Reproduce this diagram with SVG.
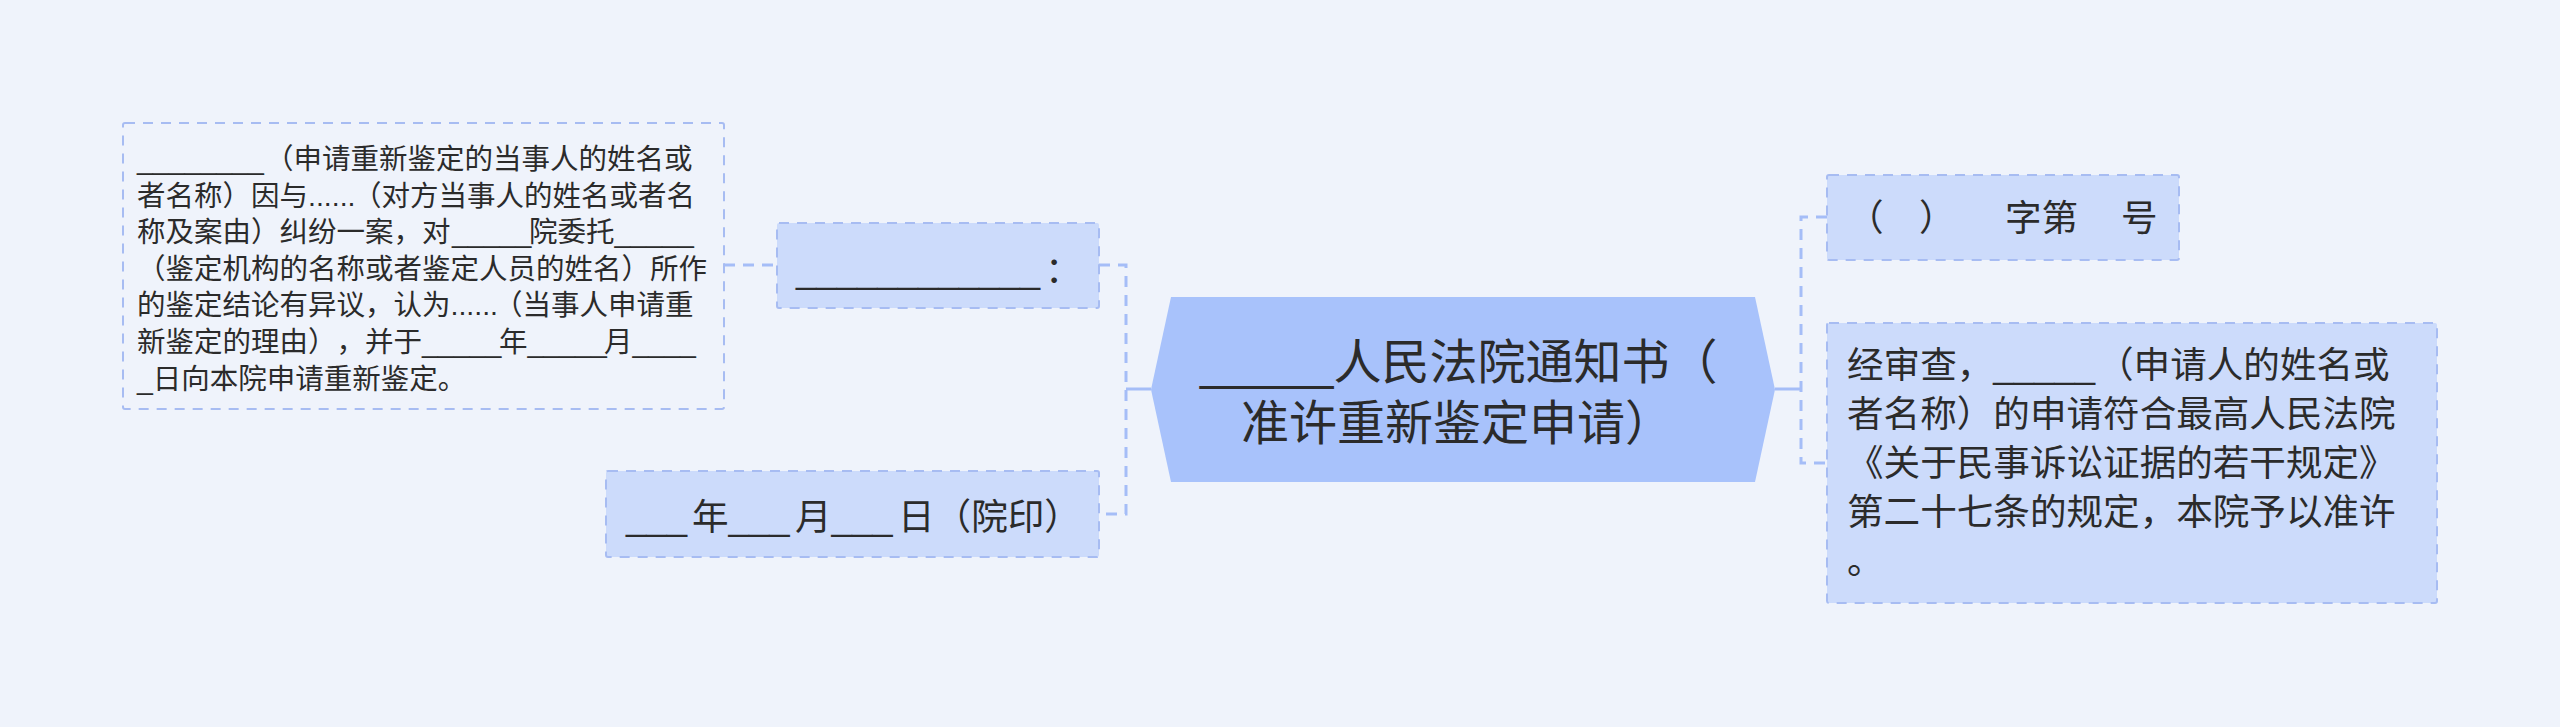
<svg xmlns="http://www.w3.org/2000/svg" width="2560" height="727" viewBox="0 0 2560 727">
<style>
text{font-family:"Liberation Sans","Noto Sans CJK SC",sans-serif;fill:#2b2b2b}
.box{fill:#ccdbfb;stroke:#a7bcf2;stroke-width:2;stroke-dasharray:10 8}
.box0{fill:none;stroke:#a7bcf2;stroke-width:2;stroke-dasharray:10 8}
.dash{fill:none;stroke:#a5bdf7;stroke-width:3;stroke-dasharray:11 8}
.solid{fill:none;stroke:#a5bdf7;stroke-width:3}
.f28{font-size:28.5px}
.f36{font-size:36.6px}
.f48{font-size:48px}
</style>
<rect width="2560" height="727" fill="#eff3fb"/>
<g id="connectors">
<path class="dash" d="M724,265 H777"/>
<path class="dash" d="M1099,265 H1126 V514 H1099"/>
<path class="solid" d="M1151,389 H1126"/>
<path class="dash" d="M1827,217 H1801 V463 H1827"/>
<path class="solid" d="M1775,389 H1801"/>
</g>
<g id="center">
<polygon points="1151,389.5 1171,297 1755,297 1775,389.5 1755,482 1171,482" fill="#a8c2fb"/>
<text class="f48"><tspan x="1200" y="379">_____人民法院通知书（</tspan><tspan x="1241" y="440">准许重新鉴定申请）</tspan></text>
</g>
<g id="node-detail">
<rect class="box0" x="123" y="123" width="601" height="286" rx="2"/>
<text class="f28">
<tspan x="137" y="169">________</tspan><tspan x="265" y="169">（申请重新鉴定的当事人的姓名或</tspan>
<tspan x="137" y="205.5">者名称）因与......</tspan><tspan x="353" y="205.5">（对方当事人的姓名或者名</tspan>
<tspan x="137" y="242.1">称及案由）纠纷一案，对</tspan><tspan x="452" y="242.1">_____</tspan><tspan x="529" y="242.1">院委托_____</tspan>
<tspan x="137" y="278.7">（鉴定机构的名称或者鉴定人员的姓名）所作</tspan>
<tspan x="137" y="315.3">的鉴定结论有异议，认为......</tspan><tspan x="494" y="315.3">（当事人申请重</tspan>
<tspan x="137" y="351.9">新鉴定的理由）</tspan><tspan x="336.5" y="351.9">，并于_____</tspan><tspan x="499" y="351.9">年_____</tspan><tspan x="604" y="351.9">月____</tspan>
<tspan x="137" y="388.5">_日向本院申请重新鉴定。</tspan>
</text>
</g>
<g id="node-colon">
<rect class="box" x="777" y="223" width="322" height="85" rx="2"/>
<text class="f36"><tspan x="796" y="283">____________</tspan><tspan x="1045" y="283">：</tspan></text>
</g>
<g id="node-date">
<rect class="box" x="606" y="471" width="493" height="86" rx="2"/>
<text class="f36"><tspan x="626" y="530">___</tspan><tspan x="692" y="530">年___</tspan><tspan x="795" y="530">月___</tspan><tspan x="898" y="530">日（院印）</tspan></text>
</g>
<g id="node-number">
<rect class="box" x="1827" y="175" width="352" height="85" rx="2"/>
<text class="f36"><tspan x="1847" y="231">（</tspan><tspan x="1919" y="231">）</tspan><tspan x="2005" y="231">字第</tspan><tspan x="2121" y="231">号</tspan></text>
</g>
<g id="node-approval">
<rect class="box" x="1827" y="323" width="610" height="280" rx="2"/>
<text class="f36">
<tspan x="1847" y="377.5">经审查，_____</tspan><tspan x="2097" y="377.5">（申请人的姓名或</tspan>
<tspan x="1847" y="426.5">者名称）的申请符合最高人民法院</tspan>
<tspan x="1847" y="475.5">《关于民事诉讼证据的若干规定》</tspan>
<tspan x="1847" y="524.5">第二十七条的规定，本院予以准许</tspan>
<tspan x="1847" y="573.5">。</tspan>
</text>
</g>
</svg>
